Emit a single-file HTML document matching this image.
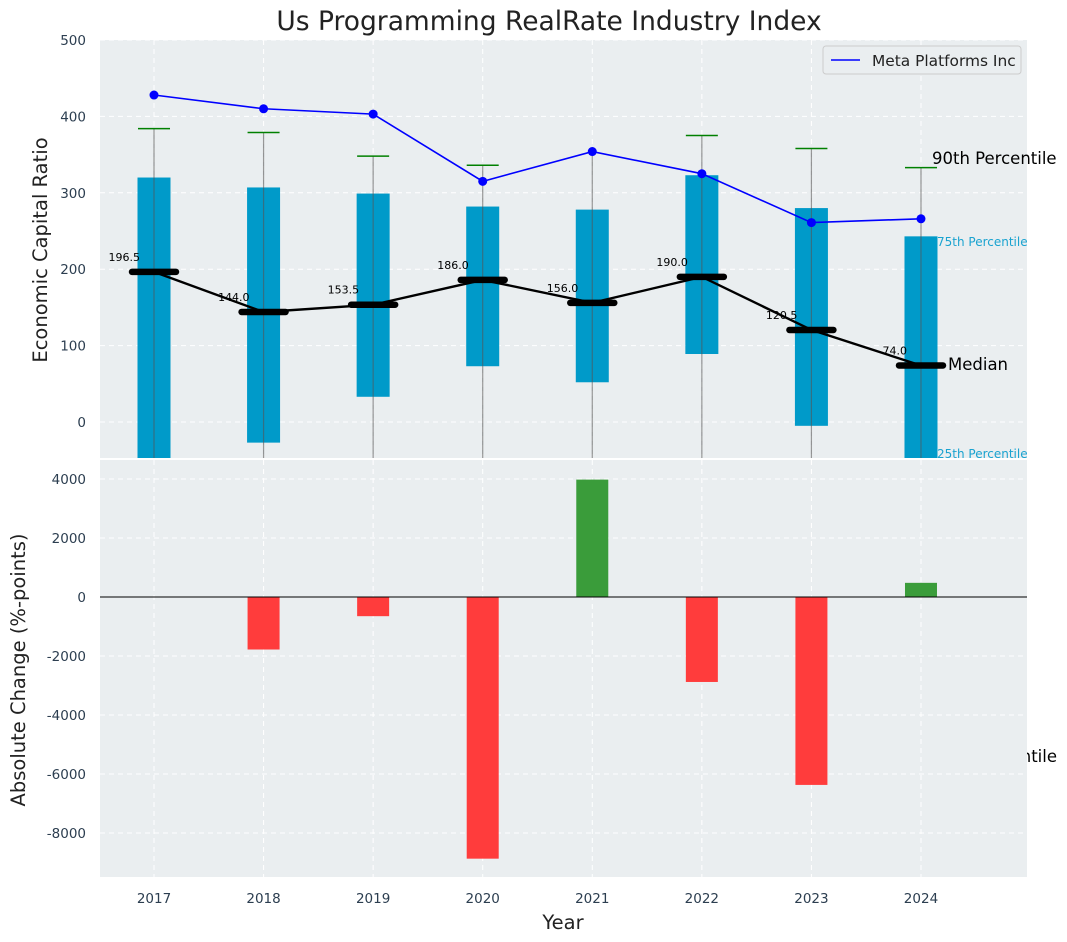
<!DOCTYPE html>
<html><head><meta charset="utf-8"><style>
body{margin:0;background:#fff;}
svg{font-family:"DejaVu Sans","Liberation Sans",sans-serif;display:block}
</style></head><body>
<svg id="c" width="1067" height="942" viewBox="0 0 1067 942" xmlns="http://www.w3.org/2000/svg"></svg>
<script>
const years=[2017,2018,2019,2020,2021,2022,2023,2024];
const q75=[320,307,299,282,278,323,280,243];
const q25=[-60,-27,33,73,52,89,-5,-60];
const p90=[384,379,348,336,352,375,358,333];
const p10=[-80,-80,-80,-80,-80,-80,-80,-80];
const medians=[196.5,144,153.5,186,156,190,120.5,74];
const meta=[428,410,403,315,354,325,261,266];
const changes=[0,-1780,-650,-8870,3980,-2880,-6370,480];
const topTicks=[0,100,200,300,400,500];
const botTicks=[-8000,-6000,-4000,-2000,0,2000,4000];

const NS="http://www.w3.org/2000/svg";
const svg=document.getElementById('c');
function el(t,a,p){const e=document.createElementNS(NS,t);for(const k in a)e.setAttribute(k,a[k]);(p||svg).appendChild(e);return e;}
const L=100,R=1027,T1=40,B1=458,T2=460,B2=877;
const x=v=>154+(v-2017)*109.57;
const y1=v=>422-v*0.764;
const y2=v=>597-v*0.0295;

let t=el('text',{x:549,y:30,'text-anchor':'middle','font-size':26.5,fill:'#222'});t.textContent='Us Programming RealRate Industry Index';


t=el('text',{x:1057,y:762,'text-anchor':'end','font-size':16.5,fill:'#000'});t.textContent='10th Percentile';


const defs=el('defs',{});
const c1=el('clipPath',{id:'cp1'},defs);el('rect',{x:L,y:T1,width:R-L,height:B1-T1},c1);
const c2=el('clipPath',{id:'cp2'},defs);el('rect',{x:L,y:T2,width:R-L,height:B2-T2},c2);

let r=el('rect',{x:L,y:T1,width:R-L,height:B1-T1,fill:'#eaeef0'});

const g1=el('g',{'clip-path':'url(#cp1)'});
topTicks.forEach(v=>{el('line',{x1:L,x2:R,y1:y1(v),y2:y1(v),stroke:'#fff','stroke-dasharray':'5,4','stroke-width':1},g1);});
years.forEach(v=>{el('line',{x1:x(v),x2:x(v),y1:T1,y2:B1,stroke:'#fff','stroke-dasharray':'5,4','stroke-width':1},g1);});
years.forEach((yr,i)=>{
  const b=el('rect',{x:x(yr)-16.5,y:y1(q75[i]),width:33,height:y1(q25[i])-y1(q75[i]),fill:'#009ac9'},g1);
  
  const w=el('line',{x1:x(yr),x2:x(yr),y1:y1(p90[i]),y2:y1(p10[i]),stroke:'#555','stroke-opacity':0.6,'stroke-width':1.2},g1);
  
  if(i!==4){const c=el('line',{x1:x(yr)-16,x2:x(yr)+16,y1:y1(p90[i]),y2:y1(p90[i]),stroke:'green','stroke-width':1.5},g1);
  }
});
let pts=years.map((yr,i)=>x(yr)+','+y1(meta[i])).join(' ');
let pl=el('polyline',{points:pts,fill:'none',stroke:'#0000ff','stroke-width':1.6},g1);

years.forEach((yr,i)=>{const c=el('circle',{cx:x(yr),cy:y1(meta[i]),r:4.5,fill:'#0000ff'},g1);
});
pts=years.map((yr,i)=>x(yr)+','+y1(medians[i])).join(' ');
pl=el('polyline',{points:pts,fill:'none',stroke:'#000','stroke-width':2.4},g1);

years.forEach((yr,i)=>{
  const m=el('line',{x1:x(yr)-22,x2:x(yr)+22,y1:y1(medians[i]),y2:y1(medians[i]),stroke:'#000','stroke-width':6.5,'stroke-linecap':'round'},g1);
  
  const tx=el('text',{x:x(yr)-14,y:y1(medians[i])-11,'text-anchor':'end','font-size':11,fill:'#000'},g1);
  tx.textContent=medians[i].toFixed(1);
  
});
[['90th Percentile',932,164,16.5,'#000','p90-annotation'],['Median',948,370,16.5,'#000','median-annotation'],
 ['75th Percentile',937,246,12,'#1aa3d0','p75-annotation'],['25th Percentile',937,458,12,'#1aa3d0','p25-annotation']].forEach(a=>{
  const tx=el('text',{x:a[1],y:a[2],'font-size':a[3],fill:a[4]});tx.textContent=a[0];
  });
const lg=el('g',{});
el('rect',{x:823,y:46,width:198,height:28,fill:'#eaeef0',stroke:'#ccc',rx:3},lg);
el('line',{x1:831,x2:860,y1:60,y2:60,stroke:'#0000ff','stroke-width':1.6},lg);
t=el('text',{x:872,y:66,'font-size':15.4,fill:'#222'},lg);t.textContent='Meta Platforms Inc';
topTicks.forEach(v=>{const tx=el('text',{x:86,y:y1(v)+5,'text-anchor':'end','font-size':13.5,fill:'#2c3e50'});tx.textContent=v;
});
t=el('text',{x:0,y:0,'font-size':19.5,fill:'#222','text-anchor':'middle',transform:'translate(47,250) rotate(-90)'});t.textContent='Economic Capital Ratio';


r=el('rect',{x:L,y:T2,width:R-L,height:B2-T2,fill:'#eaeef0'});

const g2=el('g',{'clip-path':'url(#cp2)'});
botTicks.forEach(v=>{el('line',{x1:L,x2:R,y1:y2(v),y2:y2(v),stroke:'#fff','stroke-dasharray':'5,4'},g2);});
years.forEach(v=>{el('line',{x1:x(v),x2:x(v),y1:T2,y2:B2,stroke:'#fff','stroke-dasharray':'5,4'},g2);});
years.forEach((yr,i)=>{const v=changes[i];if(v===0)return;
  const b=el('rect',{x:x(yr)-16,y:Math.min(y2(v),y2(0)),width:32,height:Math.abs(y2(v)-y2(0)),fill:v>0?'#3a9c3a':'#ff3c3c'},g2);
  });
el('line',{x1:L,x2:R,y1:y2(0),y2:y2(0),stroke:'#000','stroke-width':1},g2);
botTicks.forEach(v=>{const tx=el('text',{x:86,y:y2(v)+5,'text-anchor':'end','font-size':13.5,fill:'#2c3e50'});tx.textContent=v;
});
years.forEach(v=>{const tx=el('text',{x:x(v),y:903,'text-anchor':'middle','font-size':13.5,fill:'#2c3e50'});tx.textContent=v;
});
t=el('text',{x:0,y:0,'font-size':19.5,fill:'#222','text-anchor':'middle',transform:'translate(25,670) rotate(-90)'});t.textContent='Absolute Change (%-points)';

t=el('text',{x:563,y:929,'font-size':19.5,fill:'#222','text-anchor':'middle'});t.textContent='Year';

</script>
</body></html>
